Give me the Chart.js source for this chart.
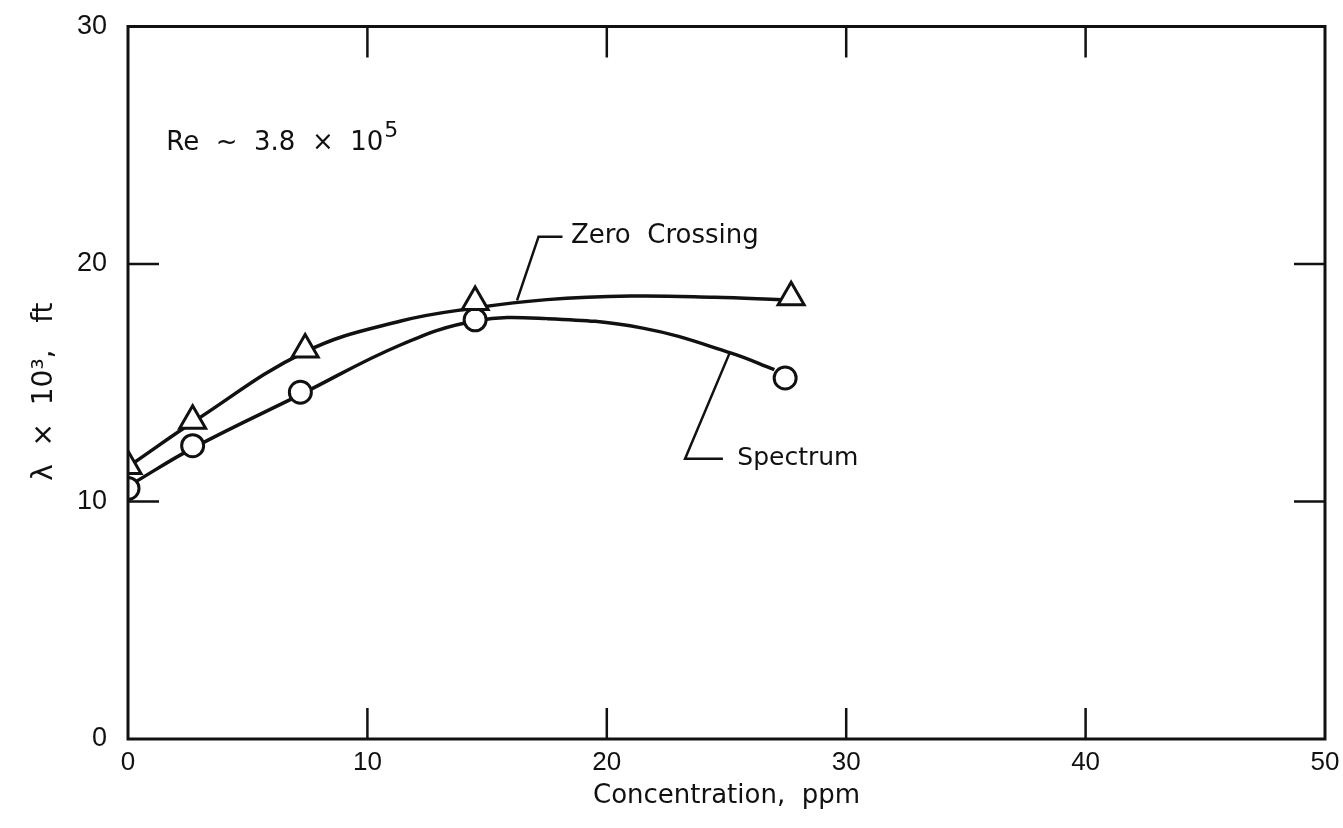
<!DOCTYPE html>
<html>
<head>
<meta charset="utf-8">
<script src="https://cdn.jsdelivr.net/npm/chart.js@4"></script>
<style>
body { margin: 0; background: #fff; }
canvas { display: block; }
</style>
</head>
<body>
<canvas id="lambdaChart" width="1343" height="828"></canvas>
<script>
// measured points
const zeroX = [0, 2.7, 7.4, 14.5, 27.7];
const zeroY = [11.5, 13.4, 16.4, 18.4, 18.6];
const specX = [0, 2.7, 7.2, 14.5, 27.45];
const specY = [10.55, 12.35, 14.6, 17.65, 15.2];

// faired curves
const zeroCurveX = [0.2, 2.8, 7.4, 11.4, 14.5, 17.5, 21, 24.5, 27.3];
const zeroCurveY = [11.6, 13.4, 16.3, 17.6, 18.15, 18.5, 18.65, 18.6, 18.5];
const specCurveX = [0.1, 2.8, 7.2, 11.4, 14.5, 17.5, 21.5, 25.2, 27.0];
const specCurveY = [10.7, 12.3, 14.5, 16.6, 17.6, 17.7, 17.3, 16.25, 15.55];

// axes
const xTicks = [0, 10, 20, 30, 40, 50];
const yTicks = [0, 10, 20, 30];

const toXY = (xs, ys) => xs.map((x, i) => ({x: x, y: ys[i]}));

const INK = '#111';
const FONT = '"Liberation Sans", Arial, sans-serif';
const WIDE = '"DejaVu Sans", sans-serif';

/* frame, inner ticks, labels */
const framePlugin = {
  id: 'frame',
  afterDatasetsDraw(chart) {
    const {ctx, chartArea: a, scales: {x, y}} = chart;
    ctx.save();
    ctx.strokeStyle = INK;
    ctx.lineWidth = 3;
    ctx.strokeRect(a.left, a.top, a.right - a.left, a.bottom - a.top);

    ctx.lineWidth = 2.5;
    const tl = 31;
    xTicks.slice(1, -1).forEach(v => {
      const px = x.getPixelForValue(v);
      ctx.beginPath();
      ctx.moveTo(px, a.bottom); ctx.lineTo(px, a.bottom - tl);
      ctx.moveTo(px, a.top); ctx.lineTo(px, a.top + tl);
      ctx.stroke();
    });
    yTicks.slice(1, -1).forEach(v => {
      const py = y.getPixelForValue(v);
      ctx.beginPath();
      ctx.moveTo(a.left, py); ctx.lineTo(a.left + tl, py);
      ctx.moveTo(a.right, py); ctx.lineTo(a.right - tl, py);
      ctx.stroke();
    });

    // leader lines
    const leader = pts => {
      ctx.beginPath();
      pts.forEach((p, i) => {
        const px = x.getPixelForValue(p[0]), py = y.getPixelForValue(p[1]);
        if (i === 0) ctx.moveTo(px, py); else ctx.lineTo(px, py);
      });
      ctx.stroke();
    };
    leader([[16.25, 18.47], [17.15, 21.15], [18.15, 21.15]]);
    leader([[25.15, 16.3], [23.27, 11.8], [24.85, 11.8]]);

    ctx.fillStyle = INK;
    ctx.textBaseline = 'middle';
    ctx.textAlign = 'left';
    ctx.font = '26px ' + WIDE;
    ctx.fillText('Zero  Crossing', x.getPixelForValue(18.5), y.getPixelForValue(21.15));
    ctx.font = '25px ' + WIDE;
    ctx.fillText('Spectrum', x.getPixelForValue(25.45), y.getPixelForValue(11.8));

    ctx.textBaseline = 'alphabetic';
    ctx.font = '26px ' + WIDE;
    const base = 'Re  ~  3.8  ×  10';
    const rx = x.getPixelForValue(1.6), ry = y.getPixelForValue(24.8);
    ctx.fillText(base, rx, ry);
    const w = ctx.measureText(base).width;
    ctx.font = '22px ' + WIDE;
    ctx.fillText('5', rx + w + 1, ry - 13);
    ctx.restore();
  }
};

new Chart(document.getElementById('lambdaChart'), {
  type: 'line',
  data: {
    datasets: [
      {
        label: 'Zero Crossing',
        data: toXY(zeroX, zeroY),
        showLine: false,
        pointStyle: 'triangle',
        pointRadius: 15,
        pointBorderWidth: 3,
        pointBorderColor: INK,
        pointBackgroundColor: '#fff'
      },
      {
        label: 'Spectrum',
        data: toXY(specX, specY),
        showLine: false,
        pointStyle: 'circle',
        pointRadius: 11,
        pointBorderWidth: 3,
        pointBorderColor: INK,
        pointBackgroundColor: '#fff'
      },
      {
        label: 'Zero Crossing fit',
        data: toXY(zeroCurveX, zeroCurveY),
        borderColor: INK,
        borderWidth: 3.5,
        pointRadius: 0,
        tension: 0.4,
        order: 5
      },
      {
        label: 'Spectrum fit',
        data: toXY(specCurveX, specCurveY),
        borderColor: INK,
        borderWidth: 3.5,
        pointRadius: 0,
        tension: 0.4,
        order: 5
      }
    ]
  },
  options: {
    responsive: false,
    animation: false,
    layout: { padding: { top: 5, right: 11, bottom: 0, left: 0 } },
    plugins: {
      legend: { display: false },
      tooltip: { enabled: false }
    },
    scales: {
      x: {
        type: 'linear',
        min: 0,
        max: 50,
        afterBuildTicks: s => { s.ticks = xTicks.map(v => ({value: v})); },
        afterFit: s => { s.height = 89; },
        grid: { display: false },
        border: { display: false },
        ticks: {
          color: INK,
          padding: 0,
          maxRotation: 0,
          font: { family: FONT, size: 26 }
        },
        title: {
          display: true,
          text: 'Concentration,  ppm',
          color: INK,
          padding: { bottom: 16 },
          font: { family: WIDE, size: 26 }
        }
      },
      y: {
        type: 'linear',
        min: 0,
        max: 30,
        afterBuildTicks: s => { s.ticks = yTicks.map(v => ({value: v})); },
        afterFit: s => { s.width = 128; },
        grid: { display: false },
        border: { display: false },
        ticks: {
          color: INK,
          padding: 13,
          font: { family: FONT, size: 27, lineHeight: 1 }
        },
        title: {
          display: true,
          text: 'λ  ×  10³,   ft  ',
          color: INK,
          padding: { top: 28 },
          font: { family: WIDE, size: 28 }
        }
      }
    }
  },
  plugins: [framePlugin]
});
</script>
</body>
</html>
